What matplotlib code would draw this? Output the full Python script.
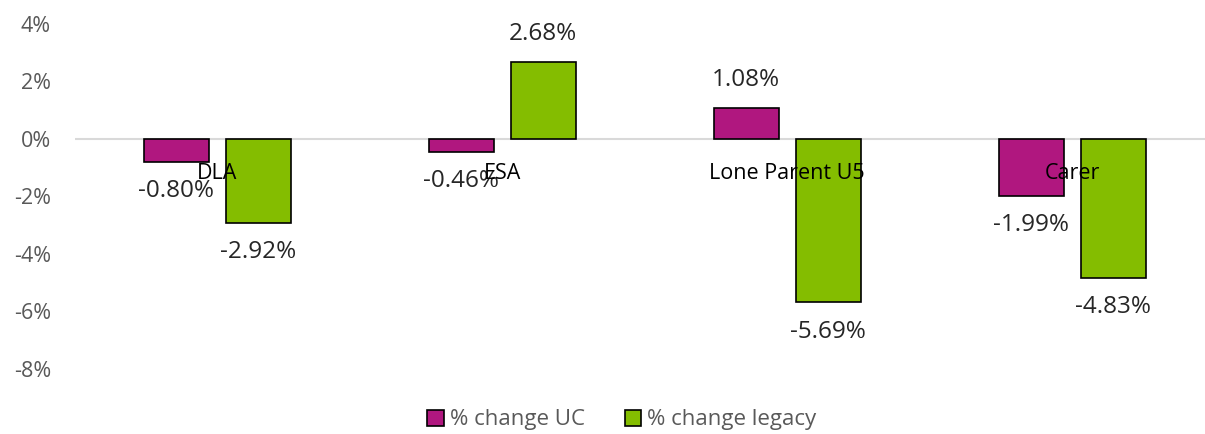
import numpy as np
import matplotlib.pyplot as plt
from matplotlib.ticker import FuncFormatter

categories = ['DLA', 'ESA', 'Lone Parent U5', 'Carer']
uc_change = [-0.80, -0.46, 1.08, -1.99]
legacy_change = [-2.92, 2.68, -5.69, -4.83]
series_names = ['% change UC', '% change legacy']

plt.rcParams['font.family'] = ['Open Sans', 'DejaVu Sans']

fig = plt.figure(figsize=(12.05, 4.34), dpi=100)
ax = fig.add_axes([0.062, 0.150, 0.946, 0.795])

x = np.arange(len(categories))
w = 0.228
off = 0.144
b1 = ax.bar(x - off, uc_change, w, color='#B0177F', edgecolor='black', linewidth=1.2, label=series_names[0], zorder=3)
b2 = ax.bar(x + off, legacy_change, w, color='#84BD00', edgecolor='black', linewidth=1.2, label=series_names[1], zorder=3)

for bars, vals in [(b1, uc_change), (b2, legacy_change)]:
    for bar, v in zip(bars, vals):
        xc = bar.get_x() + bar.get_width() / 2
        y = v + (0.98 if v > 0 else -1.02)
        ax.text(xc, y, f'{v:.2f}%', ha='center', va='center', fontsize=17.5, color='#262626', zorder=4)

for i, c in enumerate(categories):
    ax.text(i, -1.2, c, ha='center', va='center', fontsize=15.5, color='black', zorder=5)

ax.set_xlim(-0.5, len(categories) - 0.5)
ax.set_ylim(-8, 4)
ax.set_yticks([4, 2, 0, -2, -4, -6, -8])
ax.yaxis.set_major_formatter(FuncFormatter(lambda v, p: f'{v:.0f}%'))
ax.tick_params(axis='y', length=0, labelsize=15.5, labelcolor='#595959', pad=17)
ax.set_xticks([])
for s in ax.spines.values():
    s.set_visible(False)
ax.axhline(0, color='#d9d9d9', linewidth=1.5, zorder=2)

fig.legend(handles=[b1, b2], loc='lower center', bbox_to_anchor=(0.516, -0.038), ncol=2,
           frameon=False, fontsize=16, labelcolor='#595959', handlelength=0.75, handleheight=0.75,
           handletextpad=0.25, columnspacing=1.8)

fig.savefig('out.png', dpi=100)
